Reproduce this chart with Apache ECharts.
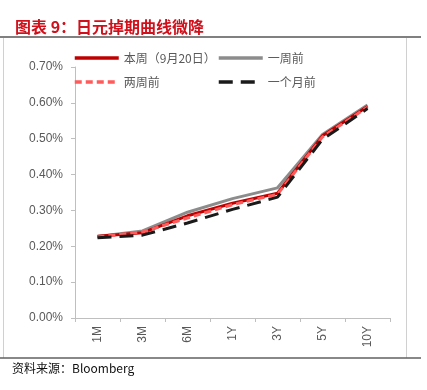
<!DOCTYPE html>
<html>
<head>
<meta charset="utf-8">
<script src="https://cdn.jsdelivr.net/npm/echarts@6/dist/echarts.min.js"></script>
<style>
  html, body { margin: 0; padding: 0; background: #fff; }
  #chart { width: 427px; height: 390px; }
</style>
</head>
<body>
<div id="chart"></div>
<script>
// tenors and yields (%)
const tenors = ['1M', '3M', '6M', '1Y', '3Y', '5Y', '10Y'];
const thisWeek = [0.228, 0.238, 0.285, 0.320, 0.348, 0.508, 0.590];
const oneWeekAgo = [0.227, 0.243, 0.295, 0.333, 0.363, 0.512, 0.594];
const twoWeeksAgo = [0.226, 0.240, 0.279, 0.316, 0.345, 0.505, 0.588];
const oneMonthAgo = [0.224, 0.231, 0.265, 0.303, 0.337, 0.498, 0.584];
const yTicks = { min: 0, max: 0.7, step: 0.1 };

const labelFont = { color: '#595959', fontSize: 12, fontFamily: 'Liberation Sans, Arial, sans-serif' };
const axisColor = '#bfbfbf';
const legendText = { color: '#595959', fontSize: 12, fontFamily: 'Noto Sans CJK SC' };

function lineSeries(name, data, color, type) {
  return {
    name: name,
    type: 'line',
    data: data,
    symbol: 'none',
    smooth: false,
    lineStyle: { color: color, width: 3, type: type || 'solid' },
    itemStyle: { color: color }
  };
}

function legendBlock(names, left) {
  return {
    data: names,
    orient: 'vertical',
    left: left, top: 47,
    itemWidth: 44, itemHeight: 10, itemGap: 12,
    itemStyle: { opacity: 0 },
    lineStyle: { width: 3.5 },
    textStyle: legendText
  };
}

const chart = echarts.init(document.getElementById('chart'));
const option = {
  animation: false,
  backgroundColor: '#fff',
  title: {
    text: '图表 9：日元掉期曲线微降',
    left: 10,
    top: 14,
    textStyle: { color: '#d0101b', fontSize: 16, fontWeight: 'bold', fontFamily: 'Noto Sans CJK SC' }
  },
  graphic: [
    { type: 'line', shape: { x1: 0, y1: 37, x2: 421, y2: 37 }, style: { stroke: '#808080', lineWidth: 2 } },
    { type: 'line', shape: { x1: 3.5, y1: 38, x2: 3.5, y2: 358 }, style: { stroke: '#d0d0d0', lineWidth: 1 } },
    { type: 'line', shape: { x1: 406.5, y1: 38, x2: 406.5, y2: 358 }, style: { stroke: '#d0d0d0', lineWidth: 1 } },
    { type: 'line', shape: { x1: 0, y1: 358, x2: 421, y2: 358 }, style: { stroke: '#606060', lineWidth: 1.5 } },
    {
      type: 'text', left: 12, top: 362,
      style: { text: '资料来源：Bloomberg', fill: '#111', font: '12px "Noto Sans CJK SC", serif' }
    }
  ],
  legend: [
    legendBlock(['本周（9月20日）', '两周前'], 68),
    legendBlock(['一周前', '一个月前'], 212)
  ],
  grid: { left: 75, right: 37, top: 67, bottom: 72, containLabel: false },
  xAxis: {
    type: 'category',
    data: tenors,
    boundaryGap: true,
    axisLine: { lineStyle: { color: axisColor, width: 1 } },
    axisTick: { show: true, alignWithLabel: false, length: 4, lineStyle: { color: axisColor } },
    axisLabel: Object.assign({ rotate: 90, margin: 8, interval: 0 }, labelFont),
    splitLine: { show: false }
  },
  yAxis: {
    type: 'value',
    min: yTicks.min,
    max: yTicks.max,
    interval: yTicks.step,
    axisLine: { show: true, lineStyle: { color: axisColor, width: 1 } },
    axisTick: { show: true, length: 4, lineStyle: { color: axisColor } },
    axisLabel: Object.assign({ margin: 12, formatter: v => v.toFixed(2) + '%' }, labelFont),
    splitLine: { show: false }
  },
  series: [
    lineSeries('一周前', oneWeekAgo, '#8c8c8c'),
    lineSeries('本周（9月20日）', thisWeek, '#c00000'),
    lineSeries('两周前', twoWeeksAgo, '#ff5b5b', [7, 4]),
    lineSeries('一个月前', oneMonthAgo, '#1a1a1a', [14, 8])
  ]
};
chart.setOption(option);
</script>
</body>
</html>
